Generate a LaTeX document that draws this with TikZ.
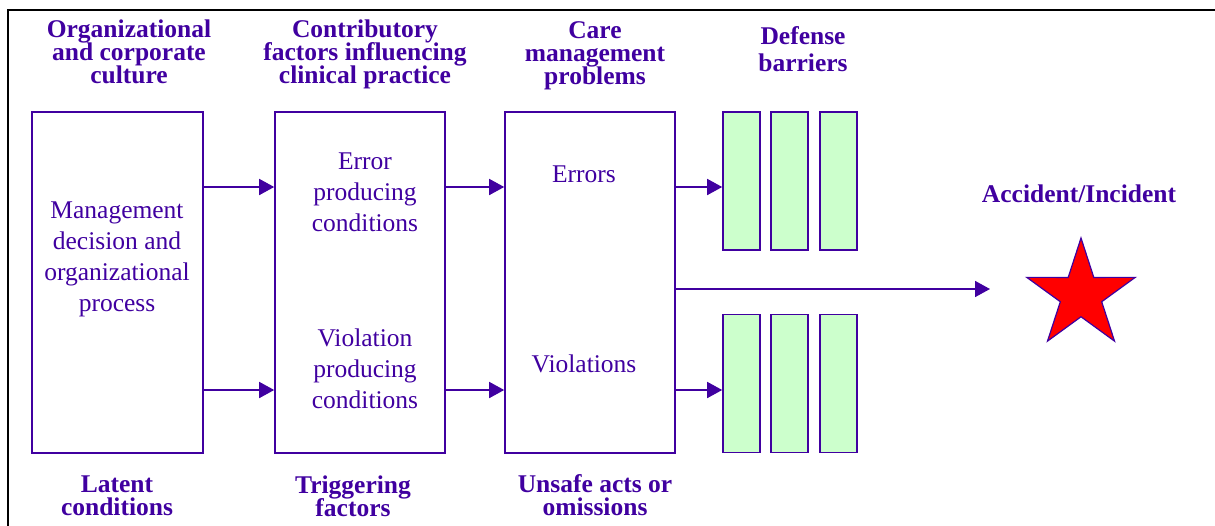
\documentclass[tikz,border=0pt]{standalone}
\usepackage{fontspec}
\setmainfont{Liberation Serif}
\usetikzlibrary{arrows.meta}
\usetikzlibrary{shapes.geometric}
\definecolor{ink}{RGB}{64,0,160}
\definecolor{barrier}{RGB}{204,255,204}
\newcommand{\headfont}{\bfseries\fontsize{25.5}{23}\selectfont\lineskiplimit=-40pt\relax}

\begin{document}
\begin{tikzpicture}[x=1pt,y=-1pt,
        box/.style={draw=ink,line width=1.6pt,inner sep=0pt},
        wall/.style={draw=ink,fill=barrier,line width=1.6pt,inner sep=0pt,minimum width=37,minimum height=138},
        head/.style={text=ink,align=center,font=\headfont},
        body/.style={text=ink,align=center,font=\fontsize{25.5}{31}\selectfont},
        arr/.style={draw=ink,line width=1.6pt,-{Triangle[length=15pt,width=16pt]}}]
        \useasboundingbox (0,0) rectangle (1215,525);
        \draw[line width=2.5pt] (8,540) -- (8,10) -- (1215,10);

        % columns
        \node[box,minimum width=171,minimum height=341] (latent) at (117.5,282.5) {};
        \node[box,minimum width=170,minimum height=341] (trigger) at (360,282.5) {};
        \node[box,minimum width=170,minimum height=341] (unsafe) at (590,282.5) {};

        \node[body] (mgmt) at (117,259) {Management\\decision and\\organizational\\process};
        \node[body] (epc) at (365,192) {Error\\producing\\conditions};
        \node[body] (vpc) at (365,369) {Violation\\producing\\conditions};
        \node[body] (err) at (584,174) {Errors};
        \node[body] (viol) at (584,364) {Violations};

        % defense barriers
        \node[wall] (w1) at (741.5,181) {};
        \node[wall] (w2) at (789.5,181) {};
        \node[wall] (w3) at (838.5,181) {};
        \node[wall] (w4) at (741.5,383.5) {};
        \node[wall] (w5) at (789.5,383.5) {};
        \node[wall] (w6) at (838.5,383.5) {};

        \node[star,star points=5,star point ratio=2.62,minimum size=114,inner sep=0pt,
              draw=ink,line width=1.2pt,fill=red] (star) at (1081,295) {};
        \coordinate (hit) at (990,289);

        % titles
        \node[head] (h1) at (129,52) {Organizational\\and corporate\\culture};
        \node[head] (h2) at (365,54) {Contributory\\factors influencing\\clinical practice};
        \node[head] (h3) at (595,56) {Care\\management\\problems};
        \node[head,font=\bfseries\fontsize{25.5}{27}\selectfont] (h4) at (803,49.5) {Defense\\barriers};
        \node[head] (acc) at (1079,194) {Accident/Incident};
        \node[head] (f1) at (117,495.5) {Latent\\conditions};
        \node[head] (f2) at (353,496) {Triggering\\factors};
        \node[head] (f3) at (595,495.5) {Unsafe acts or\\omissions};

        % arrows
        \draw[arr] (latent.east |- 0,187) -- (trigger.west |- 0,187);
        \draw[arr] (latent.east |- 0,390) -- (trigger.west |- 0,390);
        \draw[arr] (trigger.east |- 0,187) -- (unsafe.west |- 0,187);
        \draw[arr] (trigger.east |- 0,390) -- (unsafe.west |- 0,390);
        \draw[arr] (unsafe.east |- 0,187) -- (w1.west |- 0,187);
        \draw[arr] (unsafe.east |- 0,390) -- (w4.west |- 0,390);
        \draw[arr] (unsafe.east |- hit) -- (hit);
\end{tikzpicture}
\end{document}
